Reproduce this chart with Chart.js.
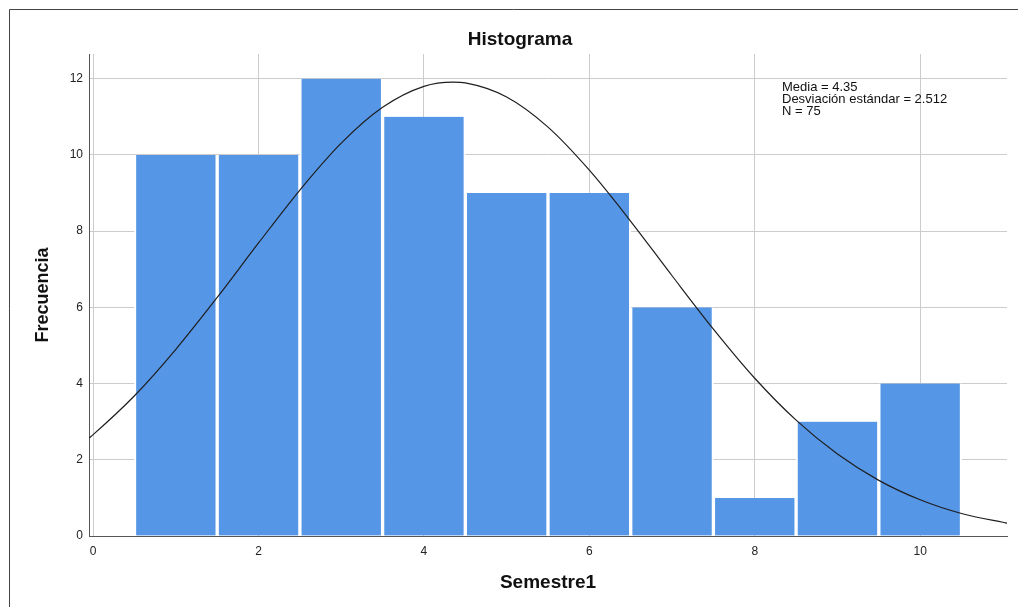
<!DOCTYPE html>
<html>
<head>
<meta charset="utf-8">
<script src="https://cdn.jsdelivr.net/npm/chart.js@4"></script>
<style>
  body { margin: 0; background: #fff; }
  canvas { display: block; }
</style>
</head>
<body>
<canvas id="histograma" width="1018" height="607"></canvas>
<script>
// bins (centre of each bar) and the counts
const binCenters = [1, 2, 3, 4, 5, 6, 7, 8, 9, 10];
const frequencies = [10, 10, 12, 11, 9, 9, 6, 1, 3, 4];

// normal curve
const curveX = [-0.05, 0, 0.5, 1, 1.5, 2, 2.5, 3, 3.5, 4, 4.35, 4.5, 5, 5.5, 6, 6.5, 7, 7.5, 8, 8.5, 9, 9.5, 10, 10.5, 11, 11.05];
const curveY = [2.57, 2.66, 3.68, 4.90, 6.26, 7.69, 9.08, 10.31, 11.25, 11.80, 11.91, 11.89, 11.52, 10.73, 9.60, 8.26, 6.83, 5.43, 4.14, 3.04, 2.15, 1.46, 0.95, 0.59, 0.36, 0.34];

const statsLines = ['Media = 4.35', 'Desviación estándar = 2.512', 'N = 75'];

const fontFamily = '"Liberation Sans", Arial, sans-serif';
Chart.defaults.font.family = fontFamily;
Chart.defaults.color = '#222';

const frameAndStats = {
  id: 'frameAndStats',
  beforeDraw(chart) {
    const c = chart.ctx;
    c.save();
    c.fillStyle = '#fff';
    c.fillRect(0, 0, chart.width, chart.height);
    c.restore();
  },
  afterDraw(chart) {
    const c = chart.ctx;
    c.save();
    // outer frame
    c.strokeStyle = '#444';
    c.lineWidth = 1;
    c.beginPath();
    c.moveTo(9.5, chart.height);
    c.lineTo(9.5, 9.5);
    c.lineTo(chart.width, 9.5);
    c.stroke();
    // title, a bit right of the canvas centre like the original
    c.fillStyle = '#111';
    c.font = 'bold 19px ' + fontFamily;
    c.textAlign = 'center';
    c.textBaseline = 'middle';
    c.fillText('Histograma', 520, 40);
    // stats box text
    c.font = '13px ' + fontFamily;
    c.textAlign = 'left';
    statsLines.forEach((t, i) => c.fillText(t, 782, 87 + i * 12.4));
    c.restore();
  }
};

new Chart(document.getElementById('histograma'), {
  data: {
    datasets: [
      {
        type: 'line',
        data: curveX.map((x, i) => ({ x: x, y: curveY[i] })),
        borderColor: '#1e1e1e',
        borderWidth: 1.2,
        pointRadius: 0,
        cubicInterpolationMode: 'monotone',
        order: 0
      },
      {
        type: 'bar',
        data: binCenters.map((x, i) => ({ x: x, y: frequencies[i] })),
        backgroundColor: '#5596e6',
        borderColor: '#ffffff',
        borderWidth: { left: 2, right: 2, top: 0, bottom: 0 },
        barPercentage: 1,
        categoryPercentage: 1,
        order: 1
      }
    ]
  },
  options: {
    responsive: false,
    animation: false,
    layout: { padding: { top: 54, right: 11, bottom: 0, left: 0 } },
    plugins: {
      legend: { display: false },
      tooltip: { enabled: false },
      title: { display: false }
    },
    scales: {
      x: {
        type: 'linear',
        min: -0.05,
        max: 11.05,
        offset: false,
        grid: { color: '#cccccc', drawTicks: false, offset: false },
        border: { display: true, color: '#555' },
        ticks: { stepSize: 2, includeBounds: false, padding: 8, font: { size: 12 } },
        title: {
          display: true,
          text: 'Semestre1',
          color: '#111',
          font: { size: 19, weight: 'bold' },
          padding: { top: 0, bottom: 13 }
        },
        afterFit(scale) { scale.height = 71; }
      },
      y: {
        min: 0,
        max: 12.65,
        grid: { color: '#cccccc', drawTicks: false },
        border: { display: true, color: '#555' },
        ticks: { stepSize: 2, includeBounds: false, padding: 6, font: { size: 12 } },
        title: {
          display: true,
          text: 'Frecuencia',
          color: '#111',
          font: { size: 18, weight: 'bold' },
          padding: { top: 32, bottom: 0 }
        },
        afterFit(scale) { scale.width = 89; }
      }
    }
  },
  plugins: [frameAndStats]
});
</script>
</body>
</html>
